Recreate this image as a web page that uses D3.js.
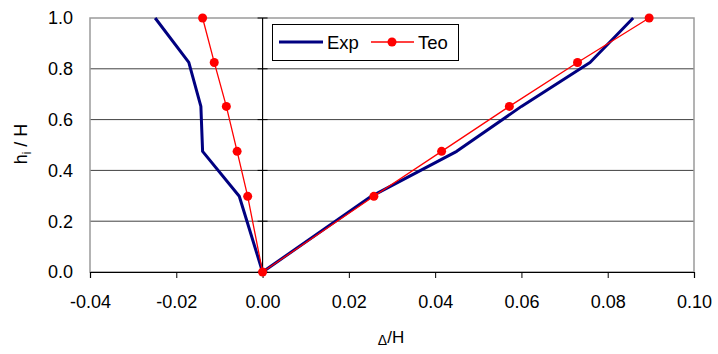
<!DOCTYPE html>
<html><head><meta charset="utf-8">
<script src="https://cdn.jsdelivr.net/npm/d3@7"></script>
<style>body{margin:0;background:#fff}svg{display:block}text{font-family:"Liberation Sans",Arial,sans-serif}</style>
</head><body><svg id="c" width="718" height="354"></svg>
<script>
const heights = [1.0, 0.825, 0.652, 0.475, 0.298, 0, 0.298, 0.475, 0.652, 0.825, 1.0];
const expX = [-0.0249, -0.0171, -0.0143, -0.0139, -0.0054, 0, 0.0252, 0.045, 0.060, 0.0759, 0.0859];
const teoX = [-0.0139, -0.0112, -0.0084, -0.0059, -0.00345, 0, 0.0258, 0.0415, 0.0572, 0.0730, 0.0896];
const xTicks = [-0.04, -0.02, 0, 0.02, 0.04, 0.06, 0.08, 0.10];
const yTicks = [0, 0.2, 0.4, 0.6, 0.8, 1.0];
const seriesNames = ["Exp", "Teo"];

const svg = d3.select("#c");
const L = 90, R = 694, T = 18, B = 272;
const x = d3.scaleLinear().domain([-0.04, 0.10]).range([L, R]);
const y = d3.scaleLinear().domain([0, 1]).range([B, T]);
const fmtX = d => d3.format(".2f")(d).replace("−", "-");

// gridlines
svg.append("g").selectAll("line").data(yTicks.filter(v => v > 0 && v < 1)).join("line")
  .attr("x1", L).attr("x2", R).attr("y1", d => y(d)).attr("y2", d => y(d))
  .attr("stroke", "#404040").attr("stroke-width", 1);
// plot border
svg.append("rect").attr("x", L).attr("y", T).attr("width", R - L).attr("height", B - T)
  .attr("fill", "none").attr("stroke", "#9a9a9a").attr("stroke-width", 1.5);

// x axis at y=0
const xAxis = d3.axisBottom(x).tickValues(xTicks).tickSize(6).tickFormat(fmtX);
const gx = svg.append("g").attr("transform", `translate(0,${y(0)})`).call(xAxis);
gx.select(".domain").attr("stroke", "#000").attr("stroke-width", 1.2);
gx.selectAll(".tick line").attr("stroke", "#000");
gx.selectAll(".tick text").attr("font-size", 18).attr("fill", "#000").attr("y", 36).attr("dy", 0)
  .attr("font-family", '"Liberation Sans",Arial,sans-serif');

// y axis line at x=0 with crossing ticks
const yAxisG = svg.append("g").attr("transform", `translate(${x(0)},0)`);
yAxisG.append("line").attr("y1", T).attr("y2", B).attr("stroke", "#000").attr("stroke-width", 1.2);
yAxisG.selectAll("line.t").data(yTicks).join("line").attr("class", "t")
  .attr("x1", -5).attr("x2", 5).attr("y1", d => y(d)).attr("y2", d => y(d)).attr("stroke", "#000");

// y tick labels on left
svg.append("g").selectAll("text").data(yTicks).join("text")
  .attr("x", 73).attr("y", d => y(d)).attr("dy", "0.36em").attr("text-anchor", "end")
  .attr("font-size", 18).text(d => d3.format(".1f")(d));

// lines
const line = d3.line().x(d => x(d[0])).y(d => y(d[1]));
const expPts = expX.map((v, i) => [v, heights[i]]);
const teoPts = teoX.map((v, i) => [v, heights[i]]);
svg.append("path").attr("d", line(expPts)).attr("fill", "none").attr("stroke", "#000080")
  .attr("stroke-width", 3).attr("stroke-linejoin", "round");
svg.append("path").attr("d", line(teoPts)).attr("fill", "none").attr("stroke", "#ff0000")
  .attr("stroke-width", 1.3);
svg.append("g").selectAll("circle").data(teoPts).join("circle")
  .attr("cx", d => x(d[0])).attr("cy", d => y(d[1])).attr("r", 4.5).attr("fill", "#ff0000");

// legend
const lg = svg.append("g");
lg.append("rect").attr("x", 272.5).attr("y", 24.5).attr("width", 186).attr("height", 36)
  .attr("fill", "#fff").attr("stroke", "#000").attr("stroke-width", 1);
lg.append("line").attr("x1", 279).attr("x2", 323).attr("y1", 42).attr("y2", 42)
  .attr("stroke", "#000080").attr("stroke-width", 3);
lg.append("text").attr("x", 327).attr("y", 48.5).attr("font-size", 18.5).text(seriesNames[0]);
lg.append("line").attr("x1", 371).attr("x2", 414).attr("y1", 42).attr("y2", 42)
  .attr("stroke", "#ff0000").attr("stroke-width", 1.3);
lg.append("circle").attr("cx", 392).attr("cy", 42).attr("r", 4.5).attr("fill", "#ff0000");
lg.append("text").attr("x", 418).attr("y", 48.5).attr("font-size", 18.5).text(seriesNames[1]);

// axis titles
const yt = svg.append("text").attr("transform", "translate(27,144) rotate(-90)")
  .attr("text-anchor", "middle").attr("font-size", 18);
yt.append("tspan").text("h");
yt.append("tspan").attr("font-size", 12).attr("dy", 4).text("i");
yt.append("tspan").attr("dy", -4).text(" / H");

const xt = svg.append("text").attr("x", 391).attr("y", 343).attr("text-anchor", "middle").attr("font-size", 17);
xt.append("tspan").attr("font-size", 14).attr("dy", 2).text("Δ");
xt.append("tspan").attr("dy", -2).text("/H");
</script></body></html>
